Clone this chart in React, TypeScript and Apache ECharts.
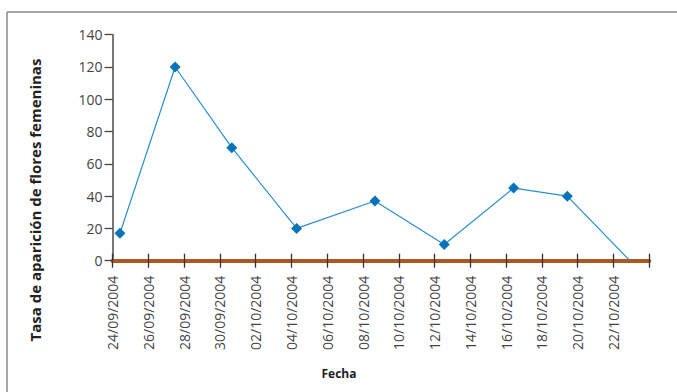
import React, { useEffect, useRef } from "react";
import * as echarts from "echarts";

const fechas = [
  "2004-09-24 10:00",
  "2004-09-27 12:00",
  "2004-09-30 16:00",
  "2004-10-04 07:00",
  "2004-10-08 16:00",
  "2004-10-12 13:00",
  "2004-10-16 10:00",
  "2004-10-19 10:00",
  "2004-10-22 22:00",
];
const tasa = [17, 120, 70, 20, 37, 10, 45, 40, 0];

const fechaInicio = "2004-09-24 00:00";
const fechaFin = "2004-10-24 00:00";
const pasoDias = 2;
const yTicks = [0, 20, 40, 60, 80, 100, 120, 140];

const DAY = 86400000;
function toMs(s: string): number {
  const [d, t] = s.split(" ");
  const [y, m, dd] = d.split("-").map(Number);
  const [hh, mm] = t.split(":").map(Number);
  return Date.UTC(y, m - 1, dd, hh, mm);
}
const base = toMs(fechaInicio);
const toDay = (s: string) => (toMs(s) - base) / DAY;
const pad = (n: number) => (n < 10 ? "0" + n : "" + n);
function fmt(dayOffset: number): string {
  const d = new Date(base + Math.round(dayOffset) * DAY);
  return `${pad(d.getUTCDate())}/${pad(d.getUTCMonth() + 1)}/${d.getUTCFullYear()}`;
}

const FONT = "'Open Sans', 'Noto Sans', sans-serif";

export default function App() {
  const ref = useRef<HTMLDivElement>(null);
  useEffect(() => {
    if (!ref.current) return;
    const chart = echarts.init(ref.current, undefined, { renderer: "svg" });
    const data = fechas.map((f, i) => {
      const item: any = { value: [toDay(f), tasa[i]] };
      if (i === fechas.length - 1) item.symbol = "none";
      return item;
    });
    const xMax = toDay(fechaFin);
    const xCommon = {
      type: "value",
      min: 0,
      max: xMax,
      interval: pasoDias,
    };
    chart.setOption({
      animation: false,
      textStyle: { fontFamily: FONT },
      grid: { left: 112.5, right: 27.7, top: 34.7, bottom: 131.3, containLabel: false },
      xAxis: [
        {
          ...xCommon,
          axisLine: { show: true, onZero: false, lineStyle: { color: "#B0561F", width: 4 } },
          axisTick: { show: true, inside: false, length: 7, lineStyle: { color: "#333", width: 1.3 } },
          axisLabel: {
            rotate: 90,
            margin: 15,
            color: "#444",
            fontSize: 14,
            fontFamily: FONT,
            formatter: (v: number) => (v >= xMax ? "" : fmt(v)),
          },
          splitLine: { show: false },
        },
        {
          ...xCommon,
          position: "bottom",
          axisLine: { show: false },
          axisTick: { show: true, inside: true, length: 7, lineStyle: { color: "#333", width: 1.3 } },
          axisLabel: { show: false },
          splitLine: { show: false },
        },
      ],
      yAxis: {
        type: "value",
        min: yTicks[0],
        max: yTicks[yTicks.length - 1],
        interval: 20,
        axisLine: { show: true, lineStyle: { color: "#777", width: 2 } },
        axisTick: { show: true, length: 8, lineStyle: { color: "#444", width: 1.3 } },
        axisLabel: { margin: 10, color: "#444", fontSize: 14, fontFamily: FONT },
        splitLine: { show: false },
      },
      graphic: [
        {
          type: "line",
          shape: { x1: 7, y1: 12, x2: 677, y2: 12 },
          style: { stroke: "#8a8a8a", lineWidth: 1.5 },
          silent: true,
        },
        {
          type: "line",
          shape: { x1: 7, y1: 12, x2: 7, y2: 392 },
          style: { stroke: "#8a8a8a", lineWidth: 1.5 },
          silent: true,
        },
        {
          type: "text",
          x: 35,
          y: 200,
          rotation: Math.PI / 2,
          style: {
            text: "Tasa de aparición de flores femeninas",
            fontSize: 15,
            fontWeight: "bold",
            fontFamily: FONT,
            fill: "#222",
            align: "center",
            verticalAlign: "middle",
          },
        },
        {
          type: "text",
          x: 339,
          y: 373,
          style: {
            text: "Fecha",
            fontSize: 12,
            fontWeight: "bold",
            fontFamily: FONT,
            fill: "#222",
            align: "center",
            verticalAlign: "middle",
          },
        },
      ],
      series: [
        {
          type: "line",
          data,
          xAxisIndex: 0,
          symbol: "diamond",
          symbolSize: 11,
          z: 1,
          lineStyle: { color: "#2A8FD0", width: 1.2 },
          itemStyle: { color: "#0873B8" },
        },
      ],
    });
    return () => chart.dispose();
  }, []);
  return (
    <div
      ref={ref}
      style={{ position: "fixed", left: 0, top: 0, width: 677, height: 392, background: "#fff" }}
    />
  );
}
